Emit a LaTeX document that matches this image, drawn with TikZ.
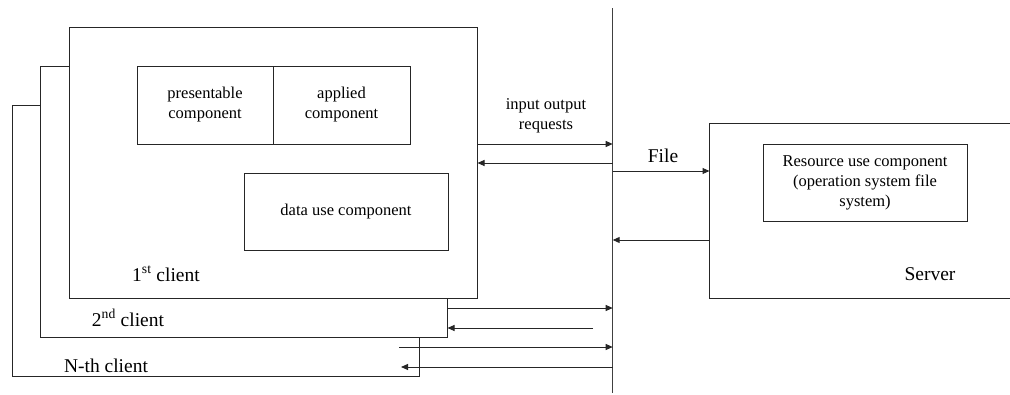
\documentclass[tikz,border=0pt]{standalone}
\usepackage{fontspec}
\setmainfont{Liberation Serif}
\usetikzlibrary{arrows.meta}
\begin{document}
\begin{tikzpicture}[x=1pt,y=-1pt,
  line width=1pt,
  box/.style={draw=black!85, fill=white, inner sep=0pt, align=center},
  small/.style={font=\rmfamily\fontsize{16.5}{20}\selectfont, align=center},
  big/.style={font=\rmfamily\fontsize{19.5}{23}\selectfont},
  arr/.style={draw=black!85, -{Triangle[length=7pt,width=6pt]}}]
\useasboundingbox (0,0) rectangle (1010,394);

% client layers, back to front
\node[box, minimum width=407, minimum height=271] (cn) at (215.5,240.5) {};
\node[box, minimum width=407, minimum height=271] (c2) at (243.5,201.5) {};
\node[box, minimum width=408, minimum height=271] (c1) at (273,162.5) {};

% components of the first client
\node[box, small, minimum width=136, minimum height=78] (pres) at (205,105) {presentable\\component};
\node[box, small, minimum width=137, minimum height=78] (appl) at (341.5,105) {applied\\component};
\node[box, small, minimum width=204, minimum height=77] (data) at (346,211.5) {data use component};

% client labels
\node[big] (l1) at (166,274) {1\textsuperscript{st} client};
\node[big] (l2) at (128,318) {2\textsuperscript{nd} client};
\node[big] (ln) at (106,366) {N-th client};

% server, open on the right
\node[minimum width=305, minimum height=174, inner sep=0pt] (server) at (862.5,211) {};
\draw[black!85] (server.north east) -- (server.north west) -- (server.south west) -- (server.south east);
\node[box, small, minimum width=204, minimum height=77] (res) at (865,182.5)
  {Resource use component\\(operation system file\\system)};
\node[big] (lsrv) at (930,274) {Server};

% shared bus
\coordinate (bustop) at (612.7,8);
\coordinate (busbot) at (612.7,393);
\draw[black!75] (bustop) -- (busbot);

% first client traffic
\draw[arr] (c1.east |- 0,144) -- (bustop |- 0,144);
\draw[arr] (bustop |- 0,163) -- (c1.east |- 0,163);
\node[small] (io) at (546,116) {input output\\requests};

% server traffic
\draw[arr] (bustop |- 0,171) -- (server.west |- 0,171);
\draw[arr] (server.west |- 0,240) -- (bustop |- 0,240);
\node[big] (file) at (663,156) {File};

% second client traffic
\coordinate (r2) at (593,328);
\draw[arr] (c2.east |- 0,308) -- (bustop |- 0,308);
\draw[arr] (r2) -- (c2.east |- 0,328);

% N-th client traffic
\coordinate (sn) at (399,347);
\coordinate (en) at (401,367);
\draw[arr] (sn) -- (bustop |- 0,347);
\draw[arr] (bustop |- 0,367) -- (en);
\end{tikzpicture}
\end{document}
